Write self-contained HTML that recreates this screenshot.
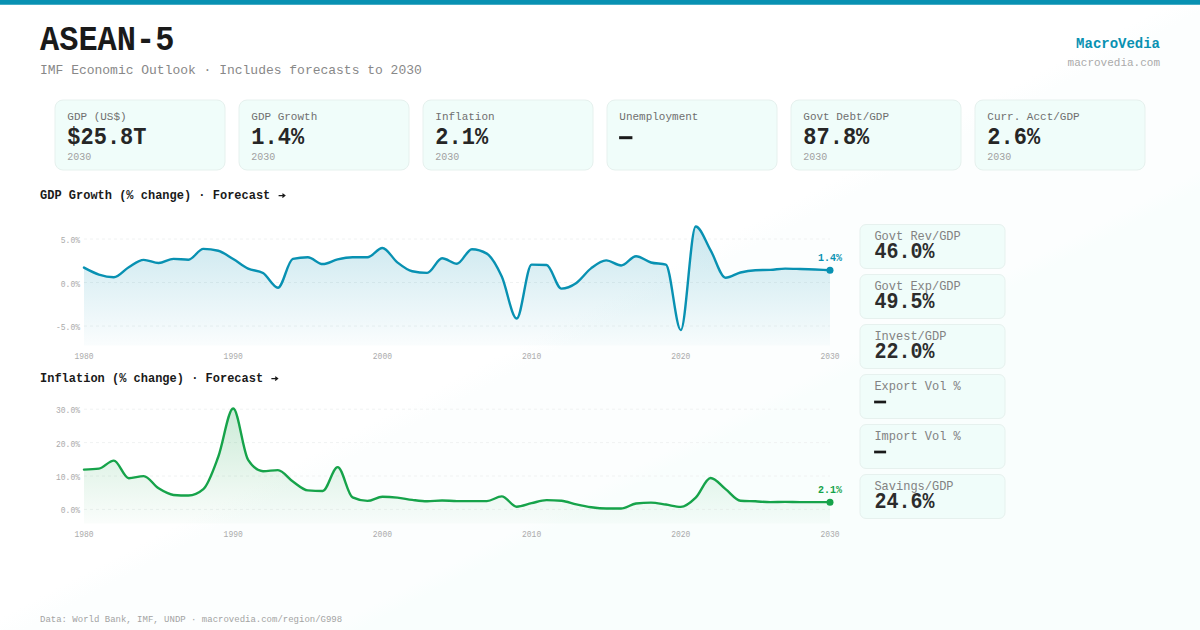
<!DOCTYPE html>
<html lang="en">
<head>
<meta charset="utf-8">
<title>ASEAN-5 · IMF Economic Outlook · MacroVedia</title>
<style>
html,body{margin:0;padding:0;background:#ffffff;}
body{width:1200px;height:630px;overflow:hidden;font-family:"Liberation Mono",monospace;}
#page{position:relative;width:1200px;height:630px;overflow:hidden;
  background:linear-gradient(to bottom right,#ffffff 0%,#ffffff 49%,#fcfefe 51%,#fcfefe 63.5%,#f9fefd 65%,#f9fefd 100%);}
#page svg{position:absolute;left:0;top:0;display:block;}
#page svg text{font-family:"Liberation Mono",monospace;white-space:pre;}
</style>
</head>
<body>
<div id="page">
<svg width="1200" height="630" viewBox="0 0 1200 630" role="img" aria-label="ASEAN-5 IMF Economic Outlook dashboard">
<rect x="0" y="0" width="1200" height="4.75" fill="#0891b2"/>
<text transform="translate(40.00 50.00) scale(1 1.100)" font-size="32.00" font-weight="bold" fill="#1a1a1a">ASEAN-5</text>
<text transform="translate(40.00 73.70) scale(1 1.050)" font-size="13.00" fill="#888888">IMF Economic Outlook · Includes forecasts to 2030</text>
<text transform="translate(1160.00 48.00) scale(1 1.060)" font-size="14.00" font-weight="bold" text-anchor="end" fill="#0891b2">MacroVedia</text>
<text transform="translate(1160.00 66.00) scale(1 1.040)" font-size="11.00" text-anchor="end" fill="#aaaaaa">macrovedia.com</text>
<rect x="55.00" y="100.00" width="170.00" height="70.00" rx="8" fill="#f0fdfa" stroke="#e6f1ee" stroke-width="1"/>
<text transform="translate(67.30 119.70) scale(1 1.050)" font-size="11.00" fill="#6f6f6f">GDP (US$)</text>
<text transform="translate(67.30 143.60) scale(1 1.100)" font-size="22.00" font-weight="bold" fill="#262626">$25.8T</text>
<text transform="translate(67.30 159.70) scale(1 1.100)" font-size="10.00" fill="#a0a0a0">2030</text>
<rect x="239.00" y="100.00" width="170.00" height="70.00" rx="8" fill="#f0fdfa" stroke="#e6f1ee" stroke-width="1"/>
<text transform="translate(251.30 119.70) scale(1 1.050)" font-size="11.00" fill="#6f6f6f">GDP Growth</text>
<text transform="translate(251.30 143.60) scale(1 1.100)" font-size="22.00" font-weight="bold" fill="#262626">1.4%</text>
<text transform="translate(251.30 159.70) scale(1 1.100)" font-size="10.00" fill="#a0a0a0">2030</text>
<rect x="423.00" y="100.00" width="170.00" height="70.00" rx="8" fill="#f0fdfa" stroke="#e6f1ee" stroke-width="1"/>
<text transform="translate(435.30 119.70) scale(1 1.050)" font-size="11.00" fill="#6f6f6f">Inflation</text>
<text transform="translate(435.30 143.60) scale(1 1.100)" font-size="22.00" font-weight="bold" fill="#262626">2.1%</text>
<text transform="translate(435.30 159.70) scale(1 1.100)" font-size="10.00" fill="#a0a0a0">2030</text>
<rect x="607.00" y="100.00" width="170.00" height="70.00" rx="8" fill="#f0fdfa" stroke="#e6f1ee" stroke-width="1"/>
<text transform="translate(619.30 119.70) scale(1 1.050)" font-size="11.00" fill="#6f6f6f">Unemployment</text>
<rect x="619.10" y="136.2" width="13.3" height="3" fill="#1a1a1a"/>
<rect x="791.00" y="100.00" width="170.00" height="70.00" rx="8" fill="#f0fdfa" stroke="#e6f1ee" stroke-width="1"/>
<text transform="translate(803.30 119.70) scale(1 1.050)" font-size="11.00" fill="#6f6f6f">Govt Debt/GDP</text>
<text transform="translate(803.30 143.60) scale(1 1.100)" font-size="22.00" font-weight="bold" fill="#262626">87.8%</text>
<text transform="translate(803.30 159.70) scale(1 1.100)" font-size="10.00" fill="#a0a0a0">2030</text>
<rect x="975.00" y="100.00" width="170.00" height="70.00" rx="8" fill="#f0fdfa" stroke="#e6f1ee" stroke-width="1"/>
<text transform="translate(987.30 119.70) scale(1 1.050)" font-size="11.00" fill="#6f6f6f">Curr. Acct/GDP</text>
<text transform="translate(987.30 143.60) scale(1 1.100)" font-size="22.00" font-weight="bold" fill="#262626">2.6%</text>
<text transform="translate(987.30 159.70) scale(1 1.100)" font-size="10.00" fill="#a0a0a0">2030</text>
<text transform="translate(40.00 199.00) scale(1 1.050)" font-size="12.00" font-weight="bold" fill="#1a1a1a">GDP Growth (% change) · Forecast</text>
<path d="M278.59,195.60H284.59M282.39,193.80L284.79,195.60L282.39,197.40" fill="none" stroke="#1a1a1a" stroke-width="1.25" stroke-linejoin="miter"/>
<defs><linearGradient id="gg" x1="0" y1="226.47" x2="0" y2="345.50" gradientUnits="userSpaceOnUse"><stop offset="0" stop-color="#0891b2" stop-opacity="0.22"/><stop offset="1" stop-color="#0891b2" stop-opacity="0.02"/></linearGradient></defs>
<line x1="84.0" y1="239.00" x2="830.0" y2="239.00" stroke="#f0f2f2" stroke-width="1" stroke-dasharray="3 3"/>
<text transform="translate(80.00 243.00) scale(1 1.100)" font-size="8.00" text-anchor="end" fill="#ababab">5.0%</text>
<line x1="84.0" y1="282.50" x2="830.0" y2="282.50" stroke="#f0f2f2" stroke-width="1" stroke-dasharray="3 3"/>
<text transform="translate(80.00 286.50) scale(1 1.100)" font-size="8.00" text-anchor="end" fill="#ababab">0.0%</text>
<line x1="84.0" y1="326.00" x2="830.0" y2="326.00" stroke="#f0f2f2" stroke-width="1" stroke-dasharray="3 3"/>
<text transform="translate(80.00 330.00) scale(1 1.100)" font-size="8.00" text-anchor="end" fill="#ababab">-5.0%</text>
<path d="M84.00,267.62C88.97,270.31 93.95,272.99 98.92,274.58C103.89,276.18 108.87,277.19 113.84,277.19C118.81,277.19 123.79,270.07 128.76,267.19C133.73,264.30 138.71,259.88 143.68,259.88C148.65,259.88 153.63,263.01 158.60,263.01C163.57,263.01 168.55,258.84 173.52,258.84C178.49,258.84 183.47,259.71 188.44,259.71C193.41,259.71 198.39,248.83 203.36,248.83C208.33,248.83 213.31,249.47 218.28,250.75C223.25,252.02 228.23,256.04 233.20,259.01C238.17,261.98 243.15,266.25 248.12,268.58C253.09,270.91 258.07,270.06 263.04,273.02C268.01,275.98 272.99,287.72 277.96,287.72C282.93,287.72 287.91,259.88 292.88,258.84C297.85,257.79 302.83,257.27 307.80,257.27C312.77,257.27 317.75,264.06 322.72,264.06C327.69,264.06 332.67,260.49 337.64,259.36C342.61,258.23 347.59,257.27 352.56,257.27C357.53,257.27 362.51,257.27 367.48,257.27C372.45,257.27 377.43,247.96 382.40,247.96C387.37,247.96 392.35,258.43 397.32,262.32C402.29,266.20 407.27,270.23 412.24,271.28C417.21,272.32 422.19,272.84 427.16,272.84C432.13,272.84 437.11,258.31 442.08,258.31C447.05,258.31 452.03,263.71 457.00,263.71C461.97,263.71 466.95,249.18 471.92,249.18C476.89,249.18 481.87,250.66 486.84,253.62C491.81,256.57 496.79,265.68 501.76,276.50C506.73,287.31 511.71,318.52 516.68,318.52C521.65,318.52 526.63,264.58 531.60,264.58C536.57,264.58 541.55,264.69 546.52,264.93C551.49,265.16 556.47,288.59 561.44,288.59C566.41,288.59 571.39,286.34 576.36,282.94C581.33,279.53 586.31,271.90 591.28,268.14C596.25,264.39 601.23,260.40 606.20,260.40C611.17,260.40 616.15,265.45 621.12,265.45C626.09,265.45 631.07,256.23 636.04,256.23C641.01,256.23 645.99,261.10 650.96,262.49C655.93,263.88 660.91,263.19 665.88,264.58C670.85,265.97 675.83,330.09 680.80,330.09C685.77,330.09 690.75,226.47 695.72,226.47C700.69,226.47 705.67,241.77 710.64,250.31C715.61,258.85 720.59,277.71 725.56,277.71C730.53,277.71 735.51,273.74 740.48,272.50C745.45,271.25 750.43,270.47 755.40,270.23C760.37,270.00 765.35,270.12 770.32,269.88C775.29,269.65 780.27,268.67 785.24,268.67C790.21,268.67 795.19,268.87 800.16,269.01C805.13,269.16 810.11,269.33 815.08,269.54C820.05,269.74 825.03,269.99 830.00,270.23L830.00,345.50L84.00,345.50Z" fill="url(#gg)"/>
<path d="M84.00,267.62C88.97,270.31 93.95,272.99 98.92,274.58C103.89,276.18 108.87,277.19 113.84,277.19C118.81,277.19 123.79,270.07 128.76,267.19C133.73,264.30 138.71,259.88 143.68,259.88C148.65,259.88 153.63,263.01 158.60,263.01C163.57,263.01 168.55,258.84 173.52,258.84C178.49,258.84 183.47,259.71 188.44,259.71C193.41,259.71 198.39,248.83 203.36,248.83C208.33,248.83 213.31,249.47 218.28,250.75C223.25,252.02 228.23,256.04 233.20,259.01C238.17,261.98 243.15,266.25 248.12,268.58C253.09,270.91 258.07,270.06 263.04,273.02C268.01,275.98 272.99,287.72 277.96,287.72C282.93,287.72 287.91,259.88 292.88,258.84C297.85,257.79 302.83,257.27 307.80,257.27C312.77,257.27 317.75,264.06 322.72,264.06C327.69,264.06 332.67,260.49 337.64,259.36C342.61,258.23 347.59,257.27 352.56,257.27C357.53,257.27 362.51,257.27 367.48,257.27C372.45,257.27 377.43,247.96 382.40,247.96C387.37,247.96 392.35,258.43 397.32,262.32C402.29,266.20 407.27,270.23 412.24,271.28C417.21,272.32 422.19,272.84 427.16,272.84C432.13,272.84 437.11,258.31 442.08,258.31C447.05,258.31 452.03,263.71 457.00,263.71C461.97,263.71 466.95,249.18 471.92,249.18C476.89,249.18 481.87,250.66 486.84,253.62C491.81,256.57 496.79,265.68 501.76,276.50C506.73,287.31 511.71,318.52 516.68,318.52C521.65,318.52 526.63,264.58 531.60,264.58C536.57,264.58 541.55,264.69 546.52,264.93C551.49,265.16 556.47,288.59 561.44,288.59C566.41,288.59 571.39,286.34 576.36,282.94C581.33,279.53 586.31,271.90 591.28,268.14C596.25,264.39 601.23,260.40 606.20,260.40C611.17,260.40 616.15,265.45 621.12,265.45C626.09,265.45 631.07,256.23 636.04,256.23C641.01,256.23 645.99,261.10 650.96,262.49C655.93,263.88 660.91,263.19 665.88,264.58C670.85,265.97 675.83,330.09 680.80,330.09C685.77,330.09 690.75,226.47 695.72,226.47C700.69,226.47 705.67,241.77 710.64,250.31C715.61,258.85 720.59,277.71 725.56,277.71C730.53,277.71 735.51,273.74 740.48,272.50C745.45,271.25 750.43,270.47 755.40,270.23C760.37,270.00 765.35,270.12 770.32,269.88C775.29,269.65 780.27,268.67 785.24,268.67C790.21,268.67 795.19,268.87 800.16,269.01C805.13,269.16 810.11,269.33 815.08,269.54C820.05,269.74 825.03,269.99 830.00,270.23" fill="none" stroke="#0891b2" stroke-width="2.4" stroke-linejoin="round" stroke-linecap="round"/>
<circle cx="830.00" cy="270.23" r="3.5" fill="#0891b2"/>
<text transform="translate(830.00 261.23) scale(1 1.100)" font-size="10.00" font-weight="bold" text-anchor="middle" fill="#0891b2">1.4%</text>
<text transform="translate(84.00 358.60) scale(1 1.100)" font-size="8.00" text-anchor="middle" fill="#ababab">1980</text>
<text transform="translate(233.20 358.60) scale(1 1.100)" font-size="8.00" text-anchor="middle" fill="#ababab">1990</text>
<text transform="translate(382.40 358.60) scale(1 1.100)" font-size="8.00" text-anchor="middle" fill="#ababab">2000</text>
<text transform="translate(531.60 358.60) scale(1 1.100)" font-size="8.00" text-anchor="middle" fill="#ababab">2010</text>
<text transform="translate(680.80 358.60) scale(1 1.100)" font-size="8.00" text-anchor="middle" fill="#ababab">2020</text>
<text transform="translate(830.00 358.60) scale(1 1.100)" font-size="8.00" text-anchor="middle" fill="#ababab">2030</text>
<text transform="translate(40.00 382.00) scale(1 1.050)" font-size="12.00" font-weight="bold" fill="#1a1a1a">Inflation (% change) · Forecast</text>
<path d="M271.37,378.60H277.37M275.17,376.80L277.57,378.60L275.17,380.40" fill="none" stroke="#1a1a1a" stroke-width="1.25" stroke-linejoin="miter"/>
<defs><linearGradient id="ig" x1="0" y1="408.53" x2="0" y2="523.40" gradientUnits="userSpaceOnUse"><stop offset="0" stop-color="#16a34a" stop-opacity="0.22"/><stop offset="1" stop-color="#16a34a" stop-opacity="0.02"/></linearGradient></defs>
<line x1="84.0" y1="409.20" x2="830.0" y2="409.20" stroke="#f0f2f2" stroke-width="1" stroke-dasharray="3 3"/>
<text transform="translate(80.00 413.20) scale(1 1.100)" font-size="8.00" text-anchor="end" fill="#ababab">30.0%</text>
<line x1="84.0" y1="442.60" x2="830.0" y2="442.60" stroke="#f0f2f2" stroke-width="1" stroke-dasharray="3 3"/>
<text transform="translate(80.00 446.60) scale(1 1.100)" font-size="8.00" text-anchor="end" fill="#ababab">20.0%</text>
<line x1="84.0" y1="476.00" x2="830.0" y2="476.00" stroke="#f0f2f2" stroke-width="1" stroke-dasharray="3 3"/>
<text transform="translate(80.00 480.00) scale(1 1.100)" font-size="8.00" text-anchor="end" fill="#ababab">10.0%</text>
<line x1="84.0" y1="509.40" x2="830.0" y2="509.40" stroke="#f0f2f2" stroke-width="1" stroke-dasharray="3 3"/>
<text transform="translate(80.00 513.40) scale(1 1.100)" font-size="8.00" text-anchor="end" fill="#ababab">0.0%</text>
<path d="M84.00,469.65C88.97,469.49 93.95,469.32 98.92,468.65C103.89,467.98 108.87,460.64 113.84,460.64C118.81,460.64 123.79,478.20 128.76,478.20C133.73,478.20 138.71,476.13 143.68,476.13C148.65,476.13 153.63,485.22 158.60,488.36C163.57,491.49 168.55,494.54 173.52,494.94C178.49,495.34 183.47,495.54 188.44,495.54C193.41,495.54 198.39,493.41 203.36,489.16C208.33,484.91 213.31,470.20 218.28,456.76C223.25,443.32 228.23,408.53 233.20,408.53C238.17,408.53 243.15,452.26 248.12,459.83C253.09,467.41 258.07,471.19 263.04,471.19C268.01,471.19 272.99,470.15 277.96,470.15C282.93,470.15 287.91,478.14 292.88,481.51C297.85,484.88 302.83,489.92 307.80,490.36C312.77,490.81 317.75,491.03 322.72,491.03C327.69,491.03 332.67,467.08 337.64,467.08C342.61,467.08 347.59,495.07 352.56,497.41C357.53,499.75 362.51,500.92 367.48,500.92C372.45,500.92 377.43,496.77 382.40,496.77C387.37,496.77 392.35,497.09 397.32,497.61C402.29,498.13 407.27,499.26 412.24,499.88C417.21,500.50 422.19,501.32 427.16,501.32C432.13,501.32 437.11,500.48 442.08,500.48C447.05,500.48 452.03,501.12 457.00,501.12C461.97,501.12 466.95,501.12 471.92,501.12C476.89,501.12 481.87,501.12 486.84,501.12C491.81,501.12 496.79,496.37 501.76,496.37C506.73,496.37 511.71,506.69 516.68,506.69C521.65,506.69 526.63,504.29 531.60,503.19C536.57,502.09 541.55,500.08 546.52,500.08C551.49,500.08 556.47,500.29 561.44,500.72C566.41,501.14 571.39,503.33 576.36,504.42C581.33,505.52 586.31,506.61 591.28,507.30C596.25,507.98 601.23,508.53 606.20,508.53C611.17,508.53 616.15,508.53 621.12,508.53C626.09,508.53 631.07,504.12 636.04,503.52C641.01,502.92 645.99,502.62 650.96,502.62C655.93,502.62 660.91,503.84 665.88,504.56C670.85,505.27 675.83,506.89 680.80,506.89C685.77,506.89 690.75,502.42 695.72,497.61C700.69,492.79 705.67,478.00 710.64,478.00C715.61,478.00 720.59,485.34 725.56,489.13C730.53,492.91 735.51,500.32 740.48,500.72C745.45,501.12 750.43,501.08 755.40,501.32C760.37,501.56 765.35,502.15 770.32,502.15C775.29,502.15 780.27,501.92 785.24,501.92C790.21,501.92 795.19,502.15 800.16,502.15C805.13,502.15 810.11,502.15 815.08,502.15C820.05,502.15 825.03,502.15 830.00,502.15L830.00,523.40L84.00,523.40Z" fill="url(#ig)"/>
<path d="M84.00,469.65C88.97,469.49 93.95,469.32 98.92,468.65C103.89,467.98 108.87,460.64 113.84,460.64C118.81,460.64 123.79,478.20 128.76,478.20C133.73,478.20 138.71,476.13 143.68,476.13C148.65,476.13 153.63,485.22 158.60,488.36C163.57,491.49 168.55,494.54 173.52,494.94C178.49,495.34 183.47,495.54 188.44,495.54C193.41,495.54 198.39,493.41 203.36,489.16C208.33,484.91 213.31,470.20 218.28,456.76C223.25,443.32 228.23,408.53 233.20,408.53C238.17,408.53 243.15,452.26 248.12,459.83C253.09,467.41 258.07,471.19 263.04,471.19C268.01,471.19 272.99,470.15 277.96,470.15C282.93,470.15 287.91,478.14 292.88,481.51C297.85,484.88 302.83,489.92 307.80,490.36C312.77,490.81 317.75,491.03 322.72,491.03C327.69,491.03 332.67,467.08 337.64,467.08C342.61,467.08 347.59,495.07 352.56,497.41C357.53,499.75 362.51,500.92 367.48,500.92C372.45,500.92 377.43,496.77 382.40,496.77C387.37,496.77 392.35,497.09 397.32,497.61C402.29,498.13 407.27,499.26 412.24,499.88C417.21,500.50 422.19,501.32 427.16,501.32C432.13,501.32 437.11,500.48 442.08,500.48C447.05,500.48 452.03,501.12 457.00,501.12C461.97,501.12 466.95,501.12 471.92,501.12C476.89,501.12 481.87,501.12 486.84,501.12C491.81,501.12 496.79,496.37 501.76,496.37C506.73,496.37 511.71,506.69 516.68,506.69C521.65,506.69 526.63,504.29 531.60,503.19C536.57,502.09 541.55,500.08 546.52,500.08C551.49,500.08 556.47,500.29 561.44,500.72C566.41,501.14 571.39,503.33 576.36,504.42C581.33,505.52 586.31,506.61 591.28,507.30C596.25,507.98 601.23,508.53 606.20,508.53C611.17,508.53 616.15,508.53 621.12,508.53C626.09,508.53 631.07,504.12 636.04,503.52C641.01,502.92 645.99,502.62 650.96,502.62C655.93,502.62 660.91,503.84 665.88,504.56C670.85,505.27 675.83,506.89 680.80,506.89C685.77,506.89 690.75,502.42 695.72,497.61C700.69,492.79 705.67,478.00 710.64,478.00C715.61,478.00 720.59,485.34 725.56,489.13C730.53,492.91 735.51,500.32 740.48,500.72C745.45,501.12 750.43,501.08 755.40,501.32C760.37,501.56 765.35,502.15 770.32,502.15C775.29,502.15 780.27,501.92 785.24,501.92C790.21,501.92 795.19,502.15 800.16,502.15C805.13,502.15 810.11,502.15 815.08,502.15C820.05,502.15 825.03,502.15 830.00,502.15" fill="none" stroke="#16a34a" stroke-width="2.4" stroke-linejoin="round" stroke-linecap="round"/>
<circle cx="830.00" cy="502.15" r="3.5" fill="#16a34a"/>
<text transform="translate(830.00 493.15) scale(1 1.100)" font-size="10.00" font-weight="bold" text-anchor="middle" fill="#16a34a">2.1%</text>
<text transform="translate(84.00 537.00) scale(1 1.100)" font-size="8.00" text-anchor="middle" fill="#ababab">1980</text>
<text transform="translate(233.20 537.00) scale(1 1.100)" font-size="8.00" text-anchor="middle" fill="#ababab">1990</text>
<text transform="translate(382.40 537.00) scale(1 1.100)" font-size="8.00" text-anchor="middle" fill="#ababab">2000</text>
<text transform="translate(531.60 537.00) scale(1 1.100)" font-size="8.00" text-anchor="middle" fill="#ababab">2010</text>
<text transform="translate(680.80 537.00) scale(1 1.100)" font-size="8.00" text-anchor="middle" fill="#ababab">2020</text>
<text transform="translate(830.00 537.00) scale(1 1.100)" font-size="8.00" text-anchor="middle" fill="#ababab">2030</text>
<rect x="860" y="224.50" width="145" height="44" rx="6" fill="#f0fdfa" stroke="#e6f1ee" stroke-width="1"/>
<text transform="translate(874.40 239.80) scale(1 1.050)" font-size="12.00" fill="#828282">Govt Rev/GDP</text>
<text transform="translate(874.40 257.80) scale(1 1.100)" font-size="20.00" font-weight="bold" fill="#2c2c2c">46.0%</text>
<rect x="860" y="274.50" width="145" height="44" rx="6" fill="#f0fdfa" stroke="#e6f1ee" stroke-width="1"/>
<text transform="translate(874.40 289.80) scale(1 1.050)" font-size="12.00" fill="#828282">Govt Exp/GDP</text>
<text transform="translate(874.40 307.80) scale(1 1.100)" font-size="20.00" font-weight="bold" fill="#2c2c2c">49.5%</text>
<rect x="860" y="324.50" width="145" height="44" rx="6" fill="#f0fdfa" stroke="#e6f1ee" stroke-width="1"/>
<text transform="translate(874.40 339.80) scale(1 1.050)" font-size="12.00" fill="#828282">Invest/GDP</text>
<text transform="translate(874.40 357.80) scale(1 1.100)" font-size="20.00" font-weight="bold" fill="#2c2c2c">22.0%</text>
<rect x="860" y="374.50" width="145" height="44" rx="6" fill="#f0fdfa" stroke="#e6f1ee" stroke-width="1"/>
<text transform="translate(874.40 389.80) scale(1 1.050)" font-size="12.00" fill="#828282">Export Vol %</text>
<rect x="874.1" y="400.65" width="12" height="2.7" fill="#1a1a1a"/>
<rect x="860" y="424.50" width="145" height="44" rx="6" fill="#f0fdfa" stroke="#e6f1ee" stroke-width="1"/>
<text transform="translate(874.40 439.80) scale(1 1.050)" font-size="12.00" fill="#828282">Import Vol %</text>
<rect x="874.1" y="450.65" width="12" height="2.7" fill="#1a1a1a"/>
<rect x="860" y="474.50" width="145" height="44" rx="6" fill="#f0fdfa" stroke="#e6f1ee" stroke-width="1"/>
<text transform="translate(874.40 489.80) scale(1 1.050)" font-size="12.00" fill="#828282">Savings/GDP</text>
<text transform="translate(874.40 507.80) scale(1 1.100)" font-size="20.00" font-weight="bold" fill="#2c2c2c">24.6%</text>
<text transform="translate(40.00 621.50) scale(1 1.050)" font-size="9.00" fill="#a3a3a3">Data: World Bank, IMF, UNDP · macrovedia.com/region/G998</text>
</svg>
</div>
</body>
</html>
